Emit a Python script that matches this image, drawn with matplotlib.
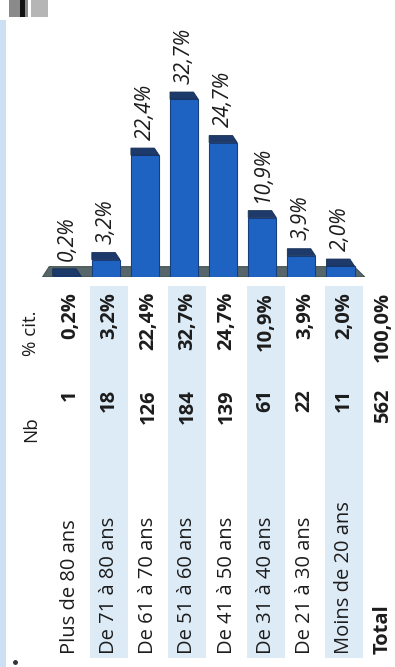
import matplotlib
matplotlib.use("Agg")
import matplotlib.pyplot as plt
from matplotlib.patches import Rectangle, Polygon

categories = ["Plus de 80 ans", "De 71 à 80 ans", "De 61 à 70 ans", "De 51 à 60 ans",
              "De 41 à 50 ans", "De 31 à 40 ans", "De 21 à 30 ans", "Moins de 20 ans"]
counts = [1, 18, 126, 184, 139, 61, 22, 11]
pcts = [0.2, 3.2, 22.4, 32.7, 24.7, 10.9, 3.9, 2.0]
total_count = 562
total_pct = 100.0

def fr(v):
    return ("%.1f%%" % v).replace(".", ",")

plt.rcParams['font.family'] = ['Open Sans', 'DejaVu Sans']
W, H = 395, 667
fig = plt.figure(figsize=(W / 100, H / 100), dpi=100)
fig.patch.set_facecolor("white")

# background layer in pixel coordinates (table, bands, decorations)
bg = fig.add_axes([0, 0, 1, 1])
bg.set_xlim(0, W)
bg.set_ylim(H, 0)
bg.axis("off")

# left blue strip + scanned icons at the top
bg.add_patch(Rectangle((0, 20), 6, H - 20, color="#cddff2", lw=0))
bg.add_patch(Rectangle((9, 0), 19, 17, color="#8a8a8a", lw=0))
bg.add_patch(Rectangle((20, 0), 5, 17, color="#111111", lw=0))
bg.add_patch(Rectangle((31, 0), 17, 17, color="#b5b5b5", lw=0))
bg.plot([15], [662], "o", ms=2.5, color="#333333")

step = 39.1
hdr_x = 31
rows_x = [hdr_x + step * (i + 1) for i in range(len(categories) + 1)]
txt = "#1c1c1c"

# alternating light blue bands
for i in range(1, len(categories), 2):
    bg.add_patch(Rectangle((rows_x[i] - 19, 286), 38, 372, color="#ddebf7", lw=0))

# header
bg.text(hdr_x, 310, "% cit.", rotation=90, ha="center", va="top", fontsize=13.5, color=txt)
bg.text(hdr_x, 416, "Nb", rotation=90, ha="center", va="top", fontsize=13.5, color=txt)

labels = categories + ["Total"]
nbs = counts + [total_count]
pc = pcts + [total_pct]
for i, lab in enumerate(labels):
    x = rows_x[i]
    bold = "bold" if lab == "Total" else "normal"
    bg.text(x, 654, lab, rotation=90, ha="center", va="bottom", fontsize=14.5,
            fontweight=bold, color=txt)
    bg.text(x, 389, str(nbs[i]), rotation=90, ha="center", va="top", fontsize=14.5,
            fontweight="bold", color=txt)
    bg.text(x, 292, fr(pc[i]), rotation=90, ha="center", va="top", fontsize=14.5,
            fontweight="bold", color=txt)

# 3D-looking bar chart
base_px = 277
k = 5.44  # px per %
x0_px = 66.8 - 0.65 * step
ax = fig.add_axes([x0_px / W, (H - base_px) / H, 8.3 * step / W, 36 * k / H])
ax.set_xlim(-0.65, 7.65)
ax.set_ylim(0, 36)
ax.axis("off")
ax.patch.set_alpha(0)

xs = list(range(len(pcts)))
ax.add_patch(Polygon([(-0.62, 0), (7.62, 0), (7.35, 1.9), (-0.45, 1.9)],
                     closed=True, fc="#56666a", ec="#45534f", lw=0.8, zorder=1))
bw = 0.72
cap = 1.3
sk = 0.12
bars = ax.bar(xs, pcts, width=bw, color="#1f63c2", edgecolor="#163f80", lw=0.8, zorder=2)
for b, v in zip(bars, pcts):
    l = b.get_x()
    r = l + b.get_width()
    ax.add_patch(Polygon([(l, v), (r, v), (r - sk, v + cap), (l, v + cap)], closed=True,
                         fc="#1d3a6a", ec="#162d55", lw=0.6, zorder=3))
    ax.annotate(fr(v), (b.get_x() + b.get_width() / 2, v + cap), xytext=(0, 6),
                textcoords="offset points", rotation=90, ha="center", va="bottom",
                fontsize=15, style="italic", color=txt)

fig.savefig("out.png", dpi=100)
